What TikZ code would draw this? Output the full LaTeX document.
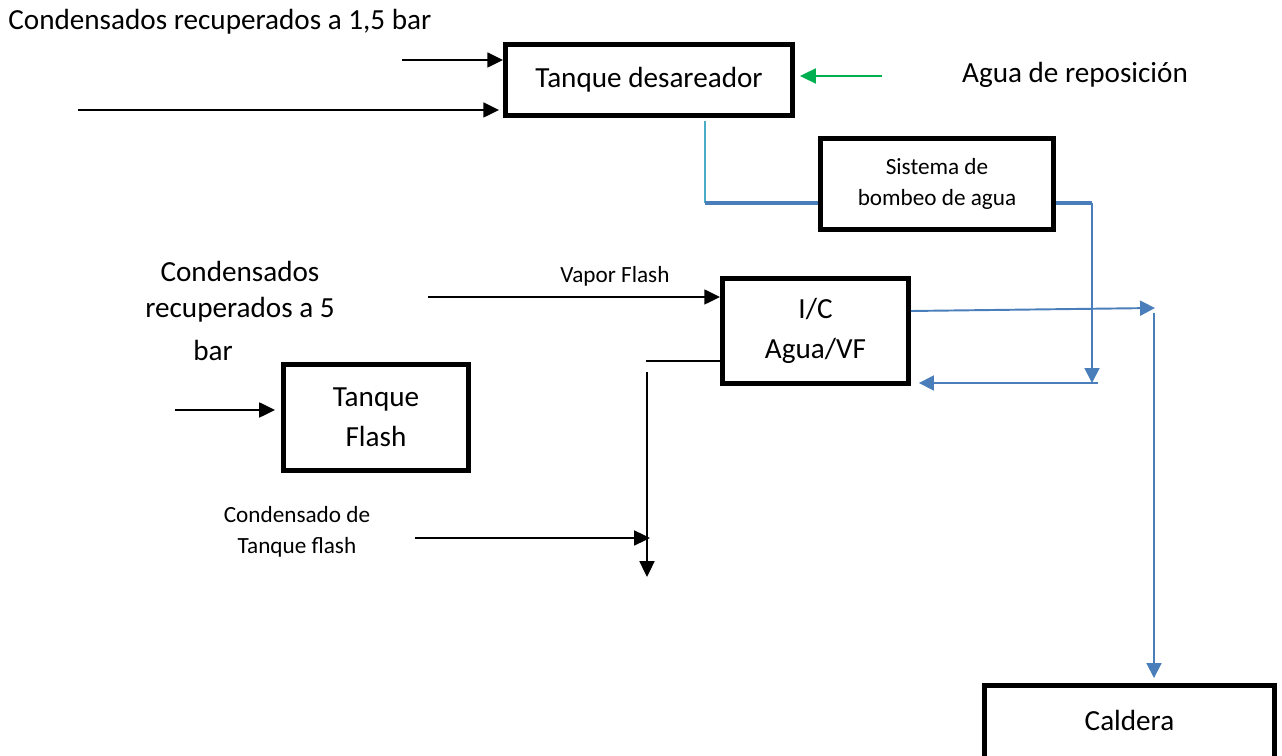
\documentclass[tikz,border=0pt]{standalone}
\usepackage{fontspec}
\setmainfont{Carlito}
\usetikzlibrary{arrows.meta, positioning, calc}
\definecolor{azulflujo}{HTML}{4A7EBB}
\definecolor{azulclaro}{HTML}{4BACC6}
\definecolor{verdeagua}{HTML}{00B050}

\begin{document}
\begin{tikzpicture}[x=0.02cm, y=-0.02cm,
    caja/.style={draw=black, line width=2.8pt, fill=white, inner sep=0pt, align=center, font=\fontsize{16.6}{23}\selectfont},
    texto/.style={inner sep=0pt, align=center, font=\fontsize{16.6}{23}\selectfont},
    textochico/.style={inner sep=0pt, align=center, font=\fontsize{13.2}{17.6}\selectfont},
    flecha/.style={line width=1.1pt, -{Triangle[length=9pt, width=8.5pt]}},
    flechaazul/.style={azulflujo, line width=1.1pt, -{Triangle[length=8.5pt, width=8.5pt]}}]
      \useasboundingbox (0,0) rectangle (1282,756);

      % Equipos
      \node[caja, minimum width=5.74cm, minimum height=1.42cm] (desareador) at (649,80) {Tanque desareador};
      \node[caja, font=\fontsize{13.2}{17.6}\selectfont, minimum width=4.66cm, minimum height=1.82cm] (bombeo) at (937,184) {Sistema de\\bombeo de agua};
      \node[caja, minimum width=3.72cm, minimum height=2.10cm] (intercambiador) at (815.5,331) {I/C\\Agua/VF};
      \node[caja, minimum width=3.70cm, minimum height=2.12cm] (flash) at (376,417.5) {Tanque\\Flash};
      \node[caja, minimum width=5.80cm, minimum height=1.53cm] (caldera) at (1129.5,723.75) {\raisebox{0.12cm}{Caldera}};

      % Textos
      \node[texto, anchor=west] (cond15) at (8,22) {Condensados recuperados a 1,5 bar};
      \node[texto] (reposiciontxt) at (1075,75) {Agua de reposición};
      \node[texto] (cond5a) at (240,271) {Condensados};
      \node[texto] (cond5b) at (240,310) {recuperados a 5};
      \node[texto] (cond5c) at (213,350) {bar};
      \node[textochico] (vaportxt) at (615,276) {Vapor Flash};
      \node[textochico] (condflashtxt) at (297,532) {Condensado de\\Tanque flash};

      % Entradas al tanque desareador
      \coordinate (entrada1) at (402,60);
      \coordinate (entrada2) at (78,110);
      \draw[flecha] (entrada1) -- (entrada1 -| desareador.west);
      \draw[flecha] (entrada2) -- ($(entrada2 -| desareador.west)+(-4,0)$);

      % Agua de reposicion
      \coordinate (reposicion) at (882,76);
      \draw[flecha, verdeagua, line width=0.9pt] (reposicion) -- ($(reposicion -| desareador.east)+(5,0)$);

      % Desareador hacia el bombeo
      \coordinate (codo1) at (705,203);
      \draw[azulclaro, line width=1pt] ($(desareador.south)+(56,3)$) -- (codo1);
      \draw[azulflujo, line width=2.2pt] (codo1) -- (codo1 -| bombeo.west);

      % Salida del bombeo
      \coordinate (codo2) at (1092,203);
      \coordinate (retorno) at (1092,383);
      \draw[azulflujo, line width=2.2pt] (bombeo.east |- codo1) -- (codo2);
      \draw[flechaazul] (codo2) -- (retorno);
      \draw[flechaazul] ($(retorno)+(6,0)$) -- ($(retorno -| intercambiador.east)+(8,0)$);

      % I/C hacia la caldera
      \coordinate (codo3) at (1155,308);
      \coordinate (bajada) at (1154,313);
      \draw[flechaazul] ($(intercambiador.east)+(0,-20)$) -- (codo3);
      \draw[flechaazul] (bajada) -- ($(bajada |- caldera.north)+(0,-5)$);

      % Vapor flash
      \coordinate (vapor) at (428,297);
      \draw[flecha] (vapor) -- (vapor -| intercambiador.west);

      % Condensado del I/C
      \coordinate (codo4) at (646,361);
      \coordinate (bajada2) at (647,372);
      \coordinate (descarga) at (647,577);
      \draw[line width=1.1pt] ($(intercambiador.west)+(0,30)$) -- (codo4);
      \draw[flecha] (bajada2) -- (descarga);

      % Condensado de tanque flash
      \coordinate (condflash) at (415,538);
      \draw[flecha] (condflash) -- ($(condflash -| descarga)+(3,0)$);

      % Entrada al tanque flash
      \coordinate (entrada5) at (175,410);
      \draw[flecha] (entrada5) -- ($(entrada5 -| flash.west)+(-6,0)$);
    \end{tikzpicture}
\end{document}
